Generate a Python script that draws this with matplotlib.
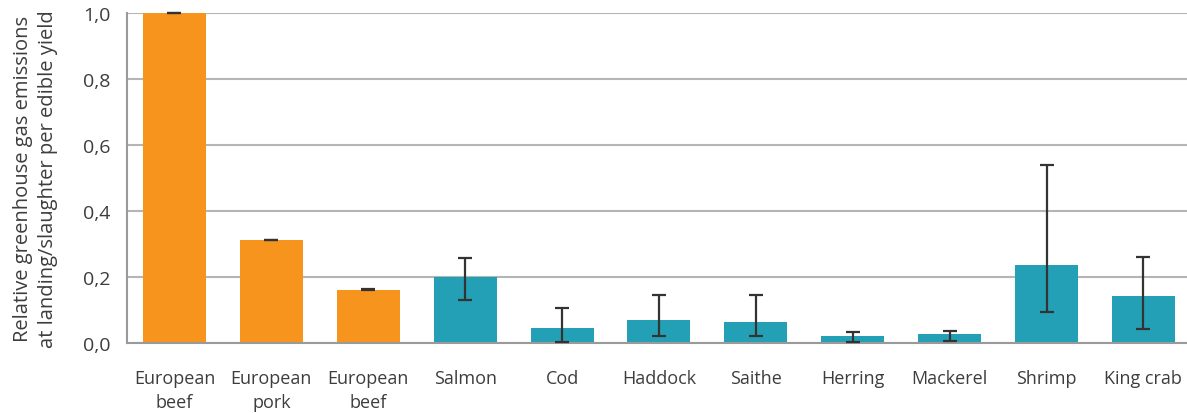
import matplotlib
matplotlib.use("Agg")
import matplotlib.pyplot as plt
import numpy as np

categories = ["European\nbeef", "European\npork", "European\nbeef", "Salmon", "Cod",
              "Haddock", "Saithe", "Herring", "Mackerel", "Shrimp", "King crab"]
values = [1.0, 0.312, 0.162, 0.201, 0.045, 0.069, 0.063, 0.022, 0.028, 0.236, 0.143]
err_low = [0.999, 0.311, 0.161, 0.130, 0.004, 0.020, 0.020, 0.002, 0.006, 0.095, 0.042]
err_high = [1.001, 0.313, 0.163, 0.258, 0.107, 0.145, 0.145, 0.032, 0.035, 0.541, 0.260]
groups = ["meat", "meat", "meat", "fish", "fish", "fish", "fish", "fish", "fish", "fish", "fish"]
yticks = [0.0, 0.2, 0.4, 0.6, 0.8, 1.0]
ytick_labels = ["0,0", "0,2", "0,4", "0,6", "0,8", "1,0"]

colors = {"meat": "#F7941D", "fish": "#23A0B5"}
txt = "#3d3d3d"

plt.rcParams['font.family'] = ['Open Sans', 'DejaVu Sans']

fig = plt.figure(figsize=(11.87, 4.14), dpi=100)
ax = fig.add_axes([0.107, 0.169, 0.893, 0.797])

x = np.arange(len(categories))
ax.bar(x, values, width=0.65, color=[colors[g] for g in groups], zorder=2)
v = np.array(values)
yerr = np.vstack([v - np.array(err_low), np.array(err_high) - v])
ax.errorbar(x, values, yerr=yerr, fmt='none', ecolor="#333333", elinewidth=1.6,
            capsize=5, capthick=1.6, zorder=3, clip_on=False)

ax.set_xlim(-0.49, 10.45)
ax.set_ylim(0, 1.0)
ax.set_yticks(yticks)
ax.set_yticklabels(ytick_labels, color=txt, fontsize=14)
ax.set_xticks(x)
ax.set_xticklabels(categories, color=txt, fontsize=13, linespacing=1.4)
ax.tick_params(axis='both', length=0)
ax.tick_params(axis='x', pad=19)
ax.tick_params(axis='y', pad=12)

ax.yaxis.grid(True, color="#b5b5b5", linewidth=1.5, zorder=0)
ax.set_axisbelow(True)
for s in ["top", "right"]:
    ax.spines[s].set_visible(False)
ax.spines["left"].set_color("#9a9a9a")
ax.spines["left"].set_linewidth(1.5)
ax.spines["bottom"].set_color("#9a9a9a")
ax.spines["bottom"].set_linewidth(1.5)

ax.set_ylabel("Relative greenhouse gas emissions\nat landing/slaughter per edible yield",
              color=txt, fontsize=14.5, linespacing=1.3, labelpad=18)

fig.savefig("out.png", dpi=100)
